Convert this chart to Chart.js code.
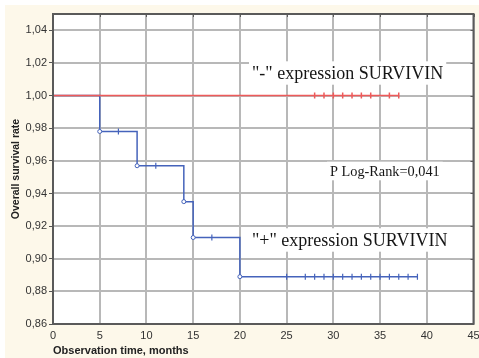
<!DOCTYPE html>
<html>
<head>
<meta charset="utf-8">
<script src="https://cdn.jsdelivr.net/npm/chart.js@4"></script>
<style>
  html, body { margin: 0; padding: 0; background: #ffffff; }
  #wrap { width: 479px; height: 358px; position: relative; }
</style>
</head>
<body>
<div id="wrap"><canvas id="kmChart" width="479" height="358"></canvas></div>
<script>
// Kaplan-Meier: tiempos de evento y supervivencia
const blueTimes = [0, 5, 9, 14, 15, 20, 39];
const blueSurv = [1.0, 0.978, 0.957, 0.935, 0.913, 0.889, 0.889];
const blueCensored = [7, 11, 17, 25, 27, 28, 29, 30, 31, 32, 33, 34, 35, 36, 37, 38, 39];

const redTimes = [0, 37];
const redSurv = [1.0, 1.0];
const redCensored = [28, 29, 30, 31, 32, 33, 34, 36, 37];

const xTickValues = [0, 5, 10, 15, 20, 25, 30, 35, 40, 45];
const yTickValues = [0.86, 0.88, 0.90, 0.92, 0.94, 0.96, 0.98, 1.00, 1.02, 1.04];

const BLUE = '#4563bb';
const RED = '#ee5a5a';

// valor de la curva en el tiempo t (escalon)
function survAt(times, surv, t) {
    let v = surv[0];
    for (let i = 0; i < times.length; i++) {
        if (times[i] <= t) v = surv[i];
    }
    return v;
}

const fmt = v => v.toFixed(2).replace('.', ',');

// fondo crema, cuadricula y marco del grafico
const frame = {
    id: 'frame',
    beforeDraw(chart) {
        const { ctx, chartArea: a } = chart;
        ctx.save();
        ctx.fillStyle = '#ffffff';
        ctx.fillRect(0, 0, chart.width, chart.height);
        ctx.fillStyle = '#fdf8ea';
        ctx.fillRect(5, 5, chart.width - 5, chart.height - 5);
        ctx.fillStyle = '#ffffff';
        ctx.fillRect(a.left, a.top, a.right - a.left, a.bottom - a.top);
        ctx.restore();
    },
    beforeDatasetsDraw(chart) {
        const { ctx, chartArea: a, scales } = chart;
        ctx.save();
        // cuadricula
        ctx.strokeStyle = '#b8b8b8';
        ctx.lineWidth = 2;
        ctx.beginPath();
        xTickValues.forEach(v => {
            const x = Math.round(scales.x.getPixelForValue(v));
            ctx.moveTo(x, a.top);
            ctx.lineTo(x, a.bottom);
        });
        yTickValues.forEach(v => {
            const y = Math.round(scales.y.getPixelForValue(v));
            ctx.moveTo(a.left, y);
            ctx.lineTo(a.right, y);
        });
        ctx.stroke();

        ctx.textBaseline = 'middle';
        ctx.textAlign = 'left';
        const labels = [
            { text: '"-" expression SURVIVIN', x: 252, y: 73, size: 18 },
            { text: 'P Log-Rank=0,041', x: 330, y: 171, size: 14.3 },
            { text: '"+" expression SURVIVIN', x: 252, y: 240, size: 18 }
        ];
        labels.forEach(l => {
            ctx.font = l.size + 'px "Liberation Serif", "Times New Roman", serif';
            const w = ctx.measureText(l.text).width;
            ctx.fillStyle = '#ffffff';
            ctx.fillRect(l.x - 3, l.y - l.size * 0.65, w + 6, l.size * 1.3);
            ctx.fillStyle = '#151515';
            ctx.fillText(l.text, l.x, l.y + 1);
        });
        ctx.restore();
    },
    afterDraw(chart) {
        const { ctx, chartArea: a, scales } = chart;
        ctx.save();
        ctx.strokeStyle = '#5a5a5a';
        ctx.lineWidth = 2;
        ctx.strokeRect(a.left, a.top, a.right - a.left, a.bottom - a.top);
        // marcas interiores en los bordes superior y derecho
        ctx.lineWidth = 1;
        ctx.beginPath();
        yTickValues.forEach(v => {
            const y = Math.round(scales.y.getPixelForValue(v)) + 0.5;
            ctx.moveTo(a.right - 3, y);
            ctx.lineTo(a.right, y);
        });
        xTickValues.forEach(v => {
            const x = Math.round(scales.x.getPixelForValue(v)) + 0.5;
            ctx.moveTo(x, a.top);
            ctx.lineTo(x, a.top + 3);
        });
        ctx.stroke();
        ctx.restore();
    }
};

const ctx = document.getElementById('kmChart').getContext('2d');
new Chart(ctx, {
    type: 'scatter',
    data: {
        datasets: [
            {
                label: 'red',
                data: redTimes.map((t, i) => ({ x: t, y: redSurv[i] })),
                showLine: true,
                stepped: 'before',
                borderColor: RED,
                borderWidth: 1.5,
                pointRadius: 0
            },
            {
                label: 'blue',
                data: blueTimes.map((t, i) => ({ x: t, y: blueSurv[i] })),
                showLine: true,
                stepped: 'before',
                borderColor: BLUE,
                borderWidth: 1.5,
                pointRadius: blueTimes.map((t, i) => (i > 0 && blueSurv[i] < blueSurv[i - 1]) ? 2 : 0),
                pointBackgroundColor: '#ffffff',
                pointBorderColor: BLUE,
                pointBorderWidth: 1
            },
            {
                label: 'red censored',
                data: redCensored.map(t => ({ x: t, y: survAt(redTimes, redSurv, t) })),
                showLine: false,
                pointStyle: 'line',
                rotation: 90,
                pointRadius: 3,
                borderColor: RED,
                pointBorderWidth: 1.5
            },
            {
                label: 'blue censored',
                data: blueCensored.map(t => ({ x: t, y: survAt(blueTimes, blueSurv, t) })),
                showLine: false,
                pointStyle: 'line',
                rotation: 90,
                pointRadius: 3,
                borderColor: BLUE,
                pointBorderWidth: 1.2
            }
        ]
    },
    options: {
        responsive: false,
        animation: false,
        events: [],
        layout: { padding: { top: 14, right: 4, left: 0, bottom: 0 } },
        plugins: { legend: { display: false }, tooltip: { enabled: false } },
        scales: {
            x: {
                type: 'linear',
                min: 0,
                max: 45,
                afterBuildTicks: s => { s.ticks = xTickValues.map(v => ({ value: v })); },
                afterFit: s => { s.height = 34; s.paddingLeft = 0; s.paddingRight = 0; },
                grid: { drawOnChartArea: false, drawTicks: false },
                border: { display: false },
                ticks: {
                    padding: 5,
                    color: '#333333',
                    maxRotation: 0,
                    font: { family: 'Arial, "Liberation Sans", sans-serif', size: 11 }
                },
                title: {
                    display: true,
                    text: 'Observation time, months',
                    align: 'start',
                    color: '#222222',
                    padding: { top: 4, bottom: 0 },
                    font: { family: 'Arial, "Liberation Sans", sans-serif', size: 11, weight: 'bold' }
                }
            },
            y: {
                type: 'linear',
                min: 0.86,
                max: 1.05,
                afterBuildTicks: s => { s.ticks = yTickValues.map(v => ({ value: v })); },
                afterFit: s => { s.width = 53; s.paddingTop = 0; s.paddingBottom = 0; },
                grid: { drawOnChartArea: false, tickLength: 4, tickColor: '#555555' },
                border: { display: false },
                ticks: {
                    padding: 2,
                    color: '#333333',
                    callback: v => fmt(v),
                    font: { family: 'Arial, "Liberation Sans", sans-serif', size: 11 }
                },
                title: {
                    display: true,
                    text: 'Overall survival rate',
                    color: '#222222',
                    padding: { top: 10, bottom: 0 },
                    font: { family: 'Arial, "Liberation Sans", sans-serif', size: 10.5, weight: 'bold' }
                }
            }
        }
    },
    plugins: [frame]
});
</script>
</body>
</html>
